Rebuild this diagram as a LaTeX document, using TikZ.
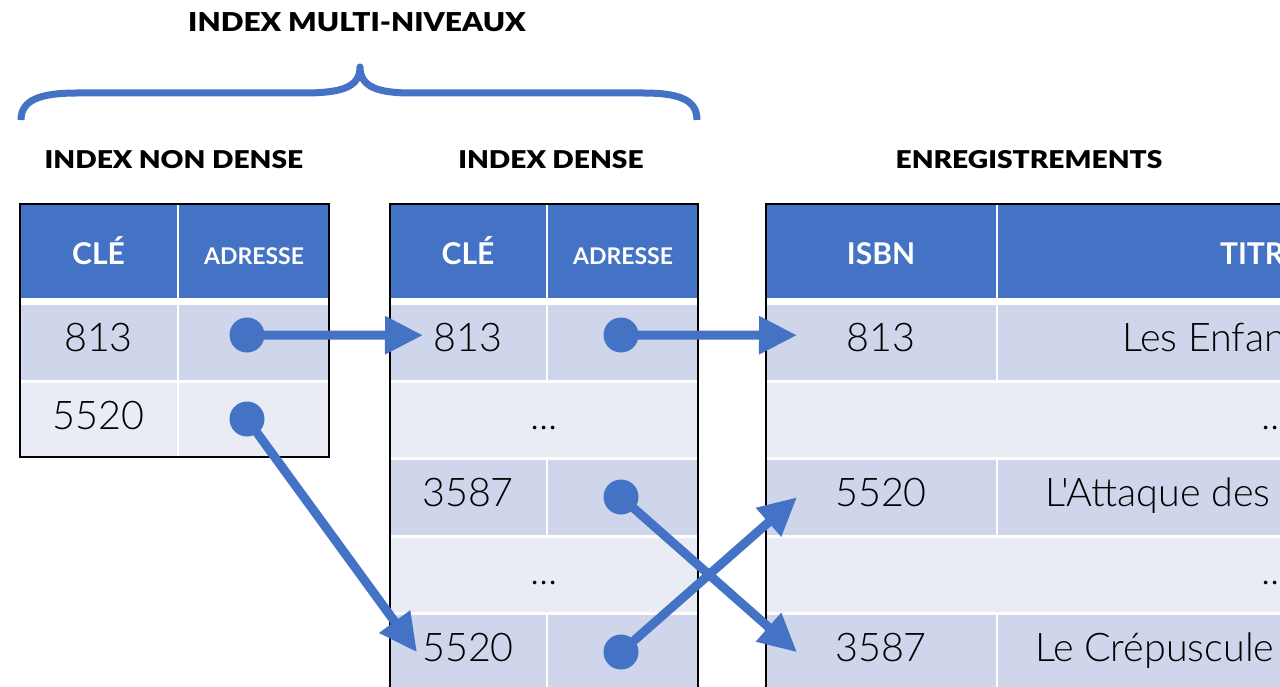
\documentclass[tikz,border=0pt]{standalone}
\usepackage{fontspec}
\usepackage{tikz}
\usetikzlibrary{arrows, arrows.meta}
\usetikzlibrary{positioning}
\newfontfamily\lightfont{Lato Light}
\newfontfamily\headfont{Lato Bold}
\newfontfamily\blackfont{Lato Black}[FakeStretch=1.15]
\definecolor{hdblue}{HTML}{4472C4}
\definecolor{rowdark}{HTML}{CFD5EA}
\definecolor{rowlight}{HTML}{E9EBF5}
\tikzset{
  cell/.style={
    inner sep=0pt, outer sep=0pt,
    minimum height=74.5pt,
    font=\lightfont\fontsize{39.5}{41}\selectfont,
    text height=27pt, text depth=8pt
  },
  darkrow/.style={cell, fill=rowdark},
  lightrow/.style={cell, fill=rowlight},
  headcell/.style={
    inner sep=0pt, outer sep=0pt,
    fill=hdblue, text=white,
    minimum height=94pt,
    text height=28pt, text depth=0pt,
    font=\headfont\fontsize{30}{32}\selectfont
  },
  smallhead/.style={font=\headfont\fontsize{23}{25}\selectfont},
  tabletitle/.style={font=\blackfont\fontsize{24.5}{26}\selectfont},
  tableframe/.style={draw=black, line width=2.5pt},
  pointdot/.style={circle, fill=hdblue, minimum size=35pt, inner sep=0pt},
  pointer/.style={
    draw=hdblue, line width=9pt,
    -{Triangle[length=38pt, width=36pt]}
  }
}

\begin{document}
\begin{tikzpicture}[x=1pt, y=-1pt]

\useasboundingbox (0,0) rectangle (1280,687);
\clip (0,0) rectangle (1280,687);

% Titles
\node[tabletitle, font=\blackfont\fontsize{26}{28}\selectfont] (multi) at (357,22) {INDEX MULTI-NIVEAUX};
\node[tabletitle] (nondense) at (174,160) {INDEX NON DENSE};
\node[tabletitle] (dense) at (551,160) {INDEX DENSE};
\node[tabletitle] (records) at (1029,160) {ENREGISTREMENTS};

% Brace
\draw[hdblue, line width=7pt, line join=round]
  (21,120) .. controls (21,100) and (40,93) .. (77,93) -- (303,93)
  .. controls (340,93) and (360,88) .. (360,67)
  .. controls (360,88) and (380,93) .. (412,93) -- (643,93)
  .. controls (680,93) and (697,100) .. (697,120);

% Index non dense
\node [headcell,
    minimum width=157pt
] (k1h) at (98.5,251) {CLÉ};

\node [headcell, smallhead,
    minimum width=150pt,
    right=2pt of k1h
] (a1h) {ADRESSE};

\node [darkrow,
    minimum width=157pt,
    below=7pt of k1h
] (k1r1) {813};

\node [darkrow,
    minimum width=150pt,
    right=2pt of k1r1
] (a1r1) {};

\node [lightrow,
    minimum width=157pt,
    below=3pt of k1r1
] (k1r2) {5520};

\node [lightrow,
    minimum width=150pt,
    right=2pt of k1r2
] (a1r2) {};

\draw[tableframe] (k1h.north west) rectangle (a1r2.south east);

% Index dense
\node [headcell,
    minimum width=156pt
] (k2h) at (468,251) {CLÉ};

\node [headcell, smallhead,
    minimum width=150pt,
    right=2pt of k2h
] (a2h) {ADRESSE};

\node [darkrow,
    minimum width=156pt,
    below=7pt of k2h
] (k2r1) {813};

\node [darkrow,
    minimum width=150pt,
    right=2pt of k2r1
] (a2r1) {};

\node [lightrow,
    minimum width=308pt,
    below right=3pt and 0pt of k2r1.south west
] (m2r2) {...};

\node [darkrow,
    minimum width=156pt,
    below right=3pt and 0pt of m2r2.south west
] (k2r3) {3587};

\node [darkrow,
    minimum width=150pt,
    right=2pt of k2r3
] (a2r3) {};

\node [lightrow,
    minimum width=308pt,
    below right=3pt and 0pt of k2r3.south west
] (m2r4) {...};

\node [darkrow,
    minimum width=156pt,
    below right=3pt and 0pt of m2r4.south west
] (k2r5) {5520};

\node [darkrow,
    minimum width=150pt,
    right=2pt of k2r5
] (a2r5) {};

\draw[tableframe] (k2h.north west) rectangle (a2r5.south east);

% Enregistrements
\node [headcell,
    minimum width=230pt
] (k3h) at (881,251) {ISBN};

\node [headcell,
    minimum width=786pt,
    right=2pt of k3h
] (t3h) {};

\node [darkrow,
    minimum width=230pt,
    below=7pt of k3h
] (k3r1) {813};

\node [darkrow,
    minimum width=786pt,
    right=2pt of k3r1
] (t3r1) {};

\node [lightrow,
    minimum width=1018pt,
    below right=3pt and 0pt of k3r1.south west
] (m3r2) {...};

\node [darkrow,
    minimum width=230pt,
    below right=3pt and 0pt of m3r2.south west
] (k3r3) {5520};

\node [darkrow,
    minimum width=786pt,
    right=2pt of k3r3
] (t3r3) {};

\node [lightrow,
    minimum width=1018pt,
    below right=3pt and 0pt of k3r3.south west
] (m3r4) {...};

\node [darkrow,
    minimum width=230pt,
    below right=3pt and 0pt of m3r4.south west
] (k3r5) {3587};

\node [darkrow,
    minimum width=786pt,
    right=2pt of k3r5
] (t3r5) {};

\draw[tableframe] (k3h.north west) rectangle (t3r5.south east);

% Titles of the records
\node[headcell, fill=none, minimum height=0pt, anchor=west] (titre) at (1220,251) {TITR};
\node[cell, minimum height=0pt, anchor=west] (title1) at (1122,342.25) {Les Enfan};
\node[cell, minimum height=0pt, anchor=west] (title3) at (1045,497.25) {L'Attaque des};
\node[cell, minimum height=0pt, anchor=west] (title5) at (1035,652.25) {Le Crépuscule};

% Pointers
\node[pointdot] (p1) at (247,335) {};
\node[pointdot] (p2) at (247,419) {};
\node[pointdot] (p3) at (621,335) {};
\node[pointdot] (p4) at (621,497) {};
\node[pointdot] (p5) at (621,652) {};

\draw[pointer] (p1.center) -- ([xshift=33pt, yshift=7pt]k2r1.west);
\draw[pointer] (p2.center) -- ([xshift=27pt]k2r5.west);
\draw[pointer] (p3.center) -- ([xshift=31pt, yshift=7pt]k3r1.west);
\draw[pointer] (p4.center) -- ([xshift=31pt]k3r5.west);
\draw[pointer] (p5.center) -- ([xshift=31pt]k3r3.west);

\end{tikzpicture}
\end{document}
